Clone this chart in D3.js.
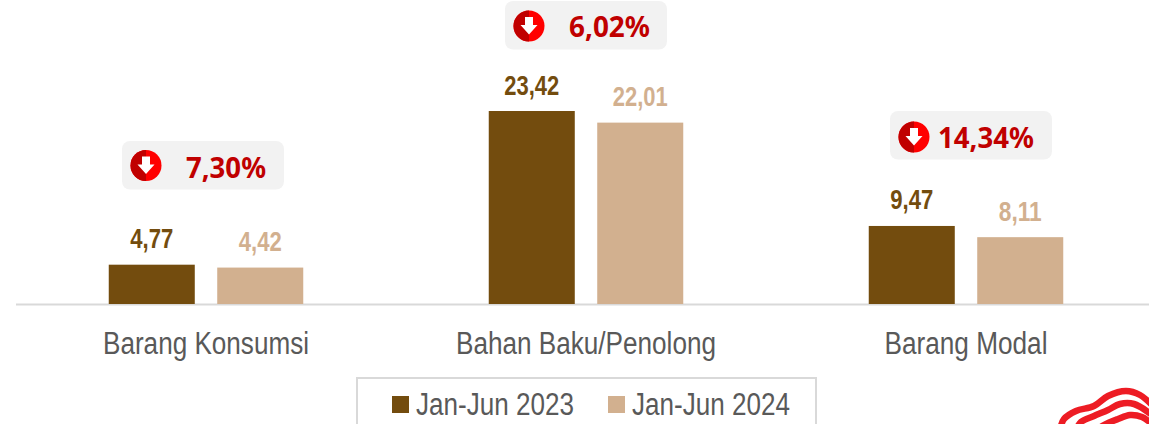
<!DOCTYPE html>
<html>
<head>
	<meta charset="utf-8">
	<script src="https://cdn.jsdelivr.net/npm/d3@7"></script>
	<style>
		html, body { margin: 0; padding: 0; background: #fff; overflow: hidden; }
	</style>
</head>
<body>
<div id="chartContainer"></div>
<script>
// Data
var categories = ["Barang Konsumsi", "Bahan Baku/Penolong", "Barang Modal"];
var seriesNames = ["Jan-Jun 2023", "Jan-Jun 2024"];
var values2023 = [4.77, 23.42, 9.47];
var values2024 = [4.42, 22.01, 8.11];
var changes = ["7,30%", "6,02%", "14,34%"];

var colors = ["#734c0e", "#d2b08f"];
var labelFont = "'Liberation Sans', Arial, sans-serif";
var badgeFont = "'Noto Sans', 'Open Sans', sans-serif";

// Layout of the badges: box left/top, icon centre, text left/baseline/width
var badgeBox = [[122, 141], [505, 1], [890, 111]];
var badgeIcon = [[146, 165.5], [529, 26], [914, 137]];
var badgeText = [[186, 178, 80], [569, 37, 81], [938, 148, 96]];

var width = 1149, height = 424;
var margin = {left: 16, baseline: 304};

var svg = d3.select("#chartContainer").append("svg")
	.attr("width", width).attr("height", height)
	.style("display", "block");

var fmt = d3.formatLocale({decimal: ",", thousands: ".", grouping: [3], currency: ["", ""]}).format(".2f");

// Scales
var x0 = d3.scaleBand().domain(categories).range([margin.left, margin.left + 1140]);
var x1 = d3.scaleBand().domain([0, 1]).range([0, 194.5]).paddingInner(0.207);
var y = d3.scaleLinear().domain([0, 23.42]).range([margin.baseline, 111]);

// squeezed text, the original uses narrowed Arial
function label(sel, size, weight, fill, family, w, anchor) {
	sel.attr("font-family", family).attr("font-size", size).attr("font-weight", weight)
		.attr("fill", fill).attr("text-anchor", anchor || "middle")
		.attr("textLength", w).attr("lengthAdjust", "spacingAndGlyphs");
	return sel;
}

// Axis line
svg.append("line").attr("x1", margin.left).attr("x2", width)
	.attr("y1", margin.baseline + 0.5).attr("y2", margin.baseline + 0.5)
	.attr("stroke", "#d9d9d9").attr("stroke-width", 2);

// Bars and value labels
[values2023, values2024].forEach(function (vals, s) {
	var groupLeft = function (c) { return x0(c) + (x0.bandwidth() - 194.5) / 2 + x1(s); };

	svg.selectAll(".bar" + s).data(categories).enter().append("rect")
		.attr("class", "bar" + s)
		.attr("x", groupLeft)
		.attr("y", function (c, i) { return y(vals[i]); })
		.attr("width", x1.bandwidth())
		.attr("height", function (c, i) { return margin.baseline - y(vals[i]); })
		.attr("fill", colors[s]);

	svg.selectAll(".val" + s).data(categories).enter().append("text")
		.attr("class", "val" + s)
		.attr("x", function (c) { return groupLeft(c) + x1.bandwidth() / 2; })
		.attr("y", function (c, i) { return y(vals[i]) - 16.5; })
		.text(function (c, i) { return fmt(vals[i]); })
		.call(label, 27, "bold", colors[s], labelFont, function (c, i) { return vals[i] >= 10 ? 55 : 43; });
});

// Category labels
svg.selectAll(".cat").data(categories).enter().append("text")
	.attr("class", "cat")
	.attr("x", function (c) { return x0(c) + x0.bandwidth() / 2; })
	.attr("y", 354)
	.text(function (c) { return c; })
	.call(label, 31, "normal", "#595959", labelFont, function (c, i) { return [206, 260, 163][i]; });

// Change badges
var badge = svg.selectAll(".badge").data(changes).enter().append("g").attr("class", "badge");

badge.append("rect")
	.attr("x", function (d, i) { return badgeBox[i][0]; })
	.attr("y", function (d, i) { return badgeBox[i][1]; })
	.attr("width", 162).attr("height", 48.5).attr("rx", 8)
	.attr("fill", "#f2f2f2");

var icon = badge.append("g")
	.attr("transform", function (d, i) { return "translate(" + badgeIcon[i] + ")"; });
icon.append("circle").attr("r", 15.5).attr("fill", "#ff0000");
icon.append("path")
	.attr("d", d3.arc()({innerRadius: 0, outerRadius: 15.5, startAngle: Math.PI, endAngle: 2 * Math.PI}))
	.attr("fill", "#c00000");
icon.append("path")
	.attr("d", "M-4,-9H4V-1H8.5L0,8.5L-8.5,-1H-4Z")
	.attr("fill", "#fff");

badge.append("text")
	.attr("x", function (d, i) { return badgeText[i][0]; })
	.attr("y", function (d, i) { return badgeText[i][1]; })
	.text(function (d) { return d; })
	.call(label, 28, "bold", "#c00000", badgeFont, function (d, i) { return badgeText[i][2]; }, "start");

// Legend, runs off the bottom of the picture
svg.append("rect").attr("x", 357).attr("y", 378).attr("width", 459).attr("height", 60)
	.attr("fill", "#fff").attr("stroke", "#d9d9d9").attr("stroke-width", 2);

var legend = svg.selectAll(".legend").data(seriesNames).enter().append("g").attr("class", "legend")
	.attr("transform", function (d, i) { return "translate(" + (392 + i * 216) + ",0)"; });
legend.append("rect").attr("y", 396).attr("width", 17).attr("height", 17)
	.attr("fill", function (d, i) { return colors[i]; });
legend.append("text").attr("x", 24).attr("y", 415)
	.text(function (d) { return d; })
	.call(label, 31, "normal", "#595959", labelFont, 158, "start");

// Logo corner, cut by the picture edge
var logoLine = d3.line().curve(d3.curveCatmullRom);
var logoStripes = [
	[[1060, 430], [1064, 419], [1076, 411], [1094, 406], [1108, 396], [1126, 391], [1140, 395], [1152, 405]],
	[[1076, 430], [1081, 422], [1094, 416], [1108, 410], [1120, 404], [1134, 404], [1152, 415]],
	[[1094, 432], [1104, 425], [1118, 419], [1130, 415], [1142, 417], [1152, 424]]
];
svg.selectAll(".logo").data(logoStripes).enter().append("path")
	.attr("class", "logo")
	.attr("d", logoLine)
	.attr("fill", "none")
	.attr("stroke", "#ed1c24")
	.attr("stroke-width", 6.5);
</script>
</body>
</html>
